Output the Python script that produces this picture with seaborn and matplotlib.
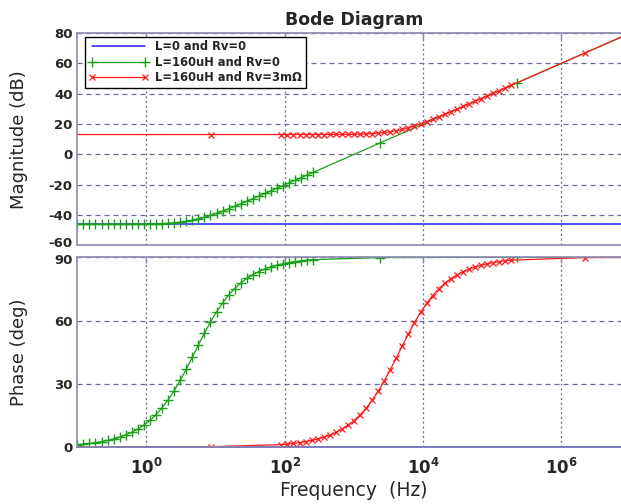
import math

import matplotlib

matplotlib.use("Agg")

import matplotlib.pyplot as plt
import matplotlib.transforms as mtransforms
import seaborn as sns
from matplotlib.ticker import FixedLocator, FuncFormatter, NullLocator

# values (frequency in Hz)
freq_blue = [0.1, 1.0, 10.0, 100.0, 1e3, 1e4, 1e5, 1e6, 1e7]
mag_blue = [-46.0, -46.0, -46.0, -46.0, -46.0, -46.0, -46.0, -46.0, -46.0]
phase_blue = [0.0, 0.0, 0.0, 0.0, 0.0, 0.0, 0.0, 0.0, 0.0]

freq_green = [
    0.100, 0.1223, 0.1496, 0.1830, 0.2239, 0.2738, 0.3350, 0.4097, 0.5012, 0.6131,
    0.7499, 0.9173, 1.122, 1.372, 1.679, 2.054, 2.512, 3.073, 3.758, 4.597,
    5.623, 6.879, 8.414, 10.29, 12.59, 15.40, 18.84, 23.04, 28.18, 34.47,
    42.17, 51.58, 63.10, 77.18, 94.41, 115.5, 141.3, 172.8, 211.3, 258.5,
    2400.0, 2.3e5, 2.3e7,
]
mag_green = [
    -46.02, -46.02, -46.02, -46.01, -46.01, -46.01, -46.00, -45.99, -45.98, -45.96,
    -45.92, -45.88, -45.81, -45.70, -45.56, -45.34, -45.04, -44.63, -44.07, -43.36,
    -42.47, -41.41, -40.19, -38.83, -37.36, -35.81, -34.20, -32.55, -30.87, -29.16,
    -27.44, -25.71, -23.97, -22.23, -20.49, -18.74, -16.99, -15.25, -13.50, -11.75,
    7.61, 47.28, 87.28,
]
phase_green = [
    1.15, 1.40, 1.71, 2.10, 2.56, 3.13, 3.83, 4.68, 5.72, 6.99,
    8.53, 10.40, 12.65, 15.34, 18.56, 22.33, 26.67, 31.57, 36.93, 42.59,
    48.36, 53.99, 59.28, 64.08, 68.34, 72.01, 75.14, 77.76, 79.94, 81.75,
    83.24, 84.46, 85.47, 86.29, 86.97, 87.52, 87.97, 88.34, 88.64, 88.89,
    89.88, 90.0, 90.0,
]

freq_red = [
    0.085, 8.5,
    89.13, 109.0, 133.4, 163.1, 199.5, 244.1, 298.5, 365.2, 446.7, 546.4,
    668.3, 817.5, 1000.0, 1223.0, 1496.0, 1830.0, 2239.0, 2738.0, 3350.0, 4097.0,
    5012.0, 6131.0, 7499.0, 9173.0, 11220.0, 13720.0, 16790.0, 20540.0, 25120.0, 30730.0,
    37580.0, 45970.0, 56230.0, 68790.0, 84140.0, 102900.0, 125900.0, 154000.0, 188400.0,
    2.2e6, 2.2e8,
]
mag_red = [
    13.10, 13.10,
    13.10, 13.10, 13.10, 13.11, 13.11, 13.11, 13.12, 13.13, 13.14, 13.16,
    13.19, 13.24, 13.31, 13.41, 13.56, 13.76, 14.06, 14.47, 15.02, 15.72,
    16.60, 17.66, 18.87, 20.22, 21.68, 23.23, 24.84, 26.49, 28.17, 29.88,
    31.60, 33.33, 35.06, 36.81, 38.55, 40.29, 42.04, 43.79, 45.54,
    66.88, 106.88,
]
phase_red = [
    0.0, 0.11,
    1.13, 1.39, 1.70, 2.08, 2.54, 3.10, 3.79, 4.64, 5.67, 6.92,
    8.45, 10.30, 12.53, 15.20, 18.39, 22.13, 26.46, 31.31, 36.66, 42.32,
    48.08, 53.72, 59.03, 63.87, 68.15, 71.84, 75.00, 77.64, 79.84, 81.67,
    83.17, 84.41, 85.42, 86.26, 86.94, 87.50, 87.95, 88.33, 88.63,
    89.88, 90.0,
]

labels = ["L=0 and Rv=0", "L=160uH and Rv=0", "L=160uH and Rv=3m\u03a9"]
mag_ticks = [-60, -40, -20, 0, 20, 40, 60, 80]
phase_ticks = [0, 30, 60, 90]
freq_ticks = [1.0, 1e2, 1e4, 1e6]

BLUE = "#1f1fff"
GREEN = "#19a019"
RED = "#ff1a1a"
GRID = "#6a6a94"
SPINE = "#8a8aae"

sns.set_style("white")
plt.rcParams["font.family"] = ["DejaVu Sans"]

fig = plt.figure(figsize=(6.21, 5.04), dpi=100)
ax1 = fig.add_axes([0.1245, 0.5129, 0.891, 0.4216])
ax2 = fig.add_axes([0.1245, 0.1131, 0.891, 0.3764])


def draw(ax, y_blue, y_green, y_red, blue_clip=True):
    sns.lineplot(x=freq_blue, y=y_blue, ax=ax, color=BLUE, linewidth=1.1,
                 estimator=None, sort=False, label=labels[0], clip_on=blue_clip)
    sns.lineplot(x=freq_green, y=y_green, ax=ax, color=GREEN, linewidth=0.9,
                 marker="+", markersize=6.5, markeredgewidth=1.0, markeredgecolor=GREEN,
                 estimator=None, sort=False, label=labels[1])
    sns.lineplot(x=freq_red, y=y_red, ax=ax, color=RED, linewidth=0.9,
                 marker="x", markersize=4, markeredgewidth=0.9, markeredgecolor=RED,
                 estimator=None, sort=False, label=labels[2])


draw(ax1, mag_blue, mag_green, mag_red)
draw(ax2, phase_blue, phase_green, phase_red, blue_clip=False)

for ax in (ax1, ax2):
    ax.set_xscale("log")
    ax.set_xlim(0.1, 1e7)
    ax.xaxis.set_major_locator(FixedLocator(freq_ticks))
    ax.xaxis.set_minor_locator(NullLocator())
    ax.xaxis.grid(True, linestyle=(0, (1.6, 2.2)), color=GRID, linewidth=0.9)
    ax.yaxis.grid(True, linestyle=(0, (4.0, 3.2)), color=GRID, linewidth=0.9)
    ax.set_axisbelow(True)
    for s in ax.spines.values():
        s.set_color(SPINE)
        s.set_linewidth(1.2)
    ax.tick_params(direction="in", length=4, width=1, color=SPINE,
                   top=True, right=True, labelsize=9.5)
    ax.set_xlabel("")

ax1.set_ylim(-60, 80)
ax1.set_yticks(mag_ticks)
ax1.set_yticklabels([str(v) for v in mag_ticks], fontweight="bold")
ax1.tick_params(labelbottom=False)
ax1.set_ylabel("Magnitude (dB)", fontsize=13)
ax1.yaxis.set_label_coords(-0.09, 0.5)

ax2.set_ylim(0, 90)
ax2.set_yticks(phase_ticks)
ax2.set_yticklabels([str(v) for v in phase_ticks], fontweight="bold")
ax2.xaxis.set_major_formatter(FuncFormatter(lambda v, p: r"$\mathbf{10^{%d}}$" % round(math.log10(v))))
ax2.tick_params(axis="x", pad=8, labelsize=12)
ax2.set_ylabel("Phase (deg)", fontsize=13)
ax2.yaxis.set_label_coords(-0.09, 0.5)
ax2.set_xlabel("Frequency  (Hz)", fontsize=13.5, labelpad=2)
if ax2.legend_:
    ax2.legend_.remove()

# the -60 and 90 labels sit close together where the two axes meet; nudge them apart a bit
ax1.get_yticklabels()[0].set_transform(
    ax1.get_yticklabels()[0].get_transform()
    + mtransforms.ScaledTranslation(0, 2.5 / 72, fig.dpi_scale_trans))
ax2.get_yticklabels()[-1].set_transform(
    ax2.get_yticklabels()[-1].get_transform()
    + mtransforms.ScaledTranslation(0, -1.5 / 72, fig.dpi_scale_trans))

ax1.set_title("Bode Diagram", fontsize=12.5, fontweight="bold", pad=6)

handles = ax1.get_lines()[:3]
leg = ax1.legend(handles, labels, loc="upper left", bbox_to_anchor=(0.014, 0.982),
                 borderaxespad=0, numpoints=2, handlelength=5.2, handletextpad=0.6,
                 labelspacing=0.22, fancybox=False, framealpha=1, edgecolor="black",
                 prop={"size": 8.3, "weight": "bold"}, borderpad=0.3)
leg.get_frame().set_linewidth(1.0)

fig.savefig("out.png", dpi=100)
